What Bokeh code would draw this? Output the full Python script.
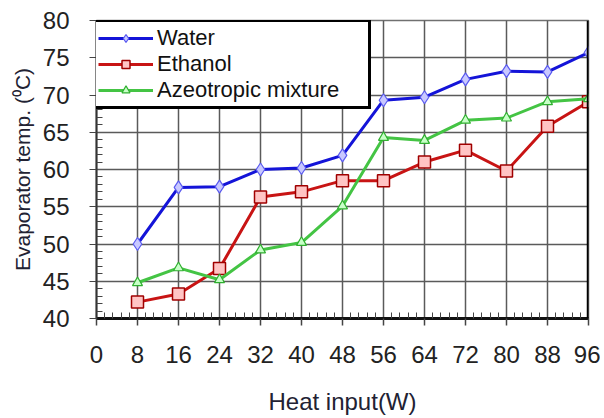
from bokeh.plotting import figure
from bokeh.models import (Legend, LegendItem, FixedTicker, Span, ColumnDataSource)
from bokeh.embed import file_html
from bokeh.resources import INLINE

heat_input = [8, 16, 24, 32, 40, 48, 56, 64, 72, 80, 88, 96]
water = [50.0, 57.6, 57.7, 60.0, 60.2, 61.9, 69.3, 69.7, 72.1, 73.2, 73.1, 75.7]
ethanol = [42.2, 43.3, 46.7, 56.3, 57.0, 58.5, 58.5, 61.0, 62.6, 59.8, 65.8, 69.1]
azeotropic = [44.8, 46.8, 45.2, 49.2, 50.2, 55.1, 64.3, 63.9, 66.6, 66.9, 69.1, 69.5]
x_ticks = [0, 8, 16, 24, 32, 40, 48, 56, 64, 72, 80, 88, 96]
y_ticks = [40, 45, 50, 55, 60, 65, 70, 75, 80]

FONT = "Liberation Sans"

p = figure(width=600, height=417, x_range=(0, 96), y_range=(40, 80),
           output_backend="svg", toolbar_location=None,
           min_border_left=96, min_border_right=12, min_border_top=20, min_border_bottom=98)

p.background_fill_color = "white"
p.border_fill_color = "white"
p.outline_line_color = "#707070"
p.outline_line_width = 1.5

# grids
p.xgrid.ticker = FixedTicker(ticks=x_ticks[1:-1])
p.ygrid.ticker = FixedTicker(ticks=y_ticks[1:-1])
for g in (p.xgrid[0], p.ygrid[0]):
    g.grid_line_color = "#5a5a5a"
    g.grid_line_width = 1.5

# axes
xa = p.xaxis[0]
xa.ticker = FixedTicker(ticks=x_ticks, minor_ticks=[x for x in
                       [i * 1.6 for i in range(61)] if all(abs(x - t) > 0.1 for t in x_ticks)])
xa.axis_line_width = 3
xa.axis_line_color = "#111111"
xa.major_tick_out = 7
xa.major_tick_in = 0
xa.minor_tick_in = 6
xa.minor_tick_out = 0
xa.major_tick_line_color = "#444444"
xa.minor_tick_line_color = "#444444"
xa.major_tick_line_width = 1.5
xa.major_label_standoff = 20
xa.major_label_text_font = FONT
xa.major_label_text_font_size = "24px"
xa.major_label_text_color = "#222222"
xa.axis_label = "Heat input(W)"
xa.axis_label_text_font = FONT
xa.axis_label_text_font_size = "24px"
xa.axis_label_text_font_style = "normal"
xa.axis_label_text_color = "#222233"
xa.axis_label_standoff = 22

ya = p.yaxis[0]
ya.ticker = FixedTicker(ticks=y_ticks, minor_ticks=[v for v in range(40, 81) if v % 5 != 0])
ya.axis_line_width = 2
ya.axis_line_color = "#333333"
ya.major_tick_out = 7
ya.major_tick_in = 0
ya.minor_tick_in = 6
ya.minor_tick_out = 0
ya.major_tick_line_color = "#444444"
ya.minor_tick_line_color = "#444444"
ya.major_label_standoff = 20
ya.major_label_text_font = FONT
ya.major_label_text_font_size = "24px"
ya.major_label_text_color = "#222222"
ya.axis_label = "Evaporator temp. (\u2070C)"
ya.axis_label_text_font = FONT
ya.axis_label_text_font_size = "21px"
ya.axis_label_text_font_style = "normal"
ya.axis_label_text_color = "#222233"
ya.axis_label_standoff = 6

# thick right border
p.add_layout(Span(location=96, dimension="height", line_color="black", line_width=3.5))

src = ColumnDataSource(dict(x=heat_input, w=water, e=ethanol, a=azeotropic))

rw_l = p.line("x", "w", source=src, line_color="#1414d8", line_width=3)
rw_m = p.scatter("x", "w", source=src, marker="diamond", size=13,
                 fill_color="#c8c8ff", line_color="#5a5af0", line_width=1.2)
re_l = p.line("x", "e", source=src, line_color="#c81414", line_width=3)
re_m = p.scatter("x", "e", source=src, marker="square", size=12,
                 fill_color="#ffc4c4", line_color="#a00000", line_width=1.5)
ra_l = p.line("x", "a", source=src, line_color="#44c444", line_width=3)
ra_m = p.scatter("x", "a", source=src, marker="triangle", size=10,
                 fill_color="#c8ffc8", line_color="#30b030", line_width=1.2)

legend = Legend(items=[
    LegendItem(label="Water", renderers=[rw_l, rw_m]),
    LegendItem(label="Ethanol", renderers=[re_l, re_m]),
    LegendItem(label="Azeotropic mixture", renderers=[ra_l, ra_m]),
], location=(-4, 209))
legend.border_line_color = "black"
legend.border_line_width = 3
legend.border_line_alpha = 1.0
legend.background_fill_color = "white"
legend.background_fill_alpha = 1
legend.label_text_font = FONT
legend.label_text_font_size = "22px"
legend.label_text_color = "#111111"
legend.glyph_width = 55
legend.glyph_height = 20
legend.label_height = 20
legend.label_width = 208
legend.label_standoff = 4
legend.spacing = 0
legend.padding = 3
legend.margin = 0
legend.label_text_line_height = 1.0
p.add_layout(legend, "center")

open("out.html", "w").write(file_html(p, INLINE))
